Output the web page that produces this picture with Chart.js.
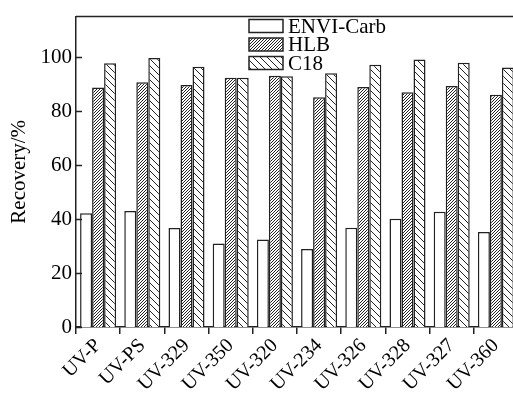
<!DOCTYPE html>
<html>
<head>
<meta charset="utf-8">
<script src="https://cdn.jsdelivr.net/npm/chart.js@4"></script>
<style>
  html, body { margin: 0; padding: 0; background: #fff; overflow: hidden; }
  canvas { display: block; }
</style>
</head>
<body>
<canvas id="myChart" width="518" height="396"></canvas>
<script>
const categories = ["UV-P", "UV-PS", "UV-329", "UV-350", "UV-320", "UV-234", "UV-326", "UV-328", "UV-327", "UV-360"];
const envi = [42.1, 43.0, 36.7, 30.9, 32.4, 28.9, 36.8, 40.1, 42.7, 35.2];
const hlb = [88.7, 90.7, 89.7, 92.3, 93.1, 85.1, 88.9, 87.0, 89.3, 86.0];
const c18 = [97.7, 99.7, 96.4, 92.3, 92.9, 94.0, 97.2, 99.1, 97.9, 96.1];
const yTicks = [0, 20, 40, 60, 80, 100];

const ink = "#222";
const serif = "'Liberation Serif', 'Times New Roman', serif";

// hatch patterns drawn pixel by pixel so the lines stay crisp
function hatch(size, dir) {
  const c = document.createElement("canvas");
  c.width = size; c.height = size;
  const g = c.getContext("2d");
  g.fillStyle = "#fff";
  g.fillRect(0, 0, size, size);
  g.fillStyle = ink;
  for (let i = 0; i < size; i++) {
    const y = dir > 0 ? size - 1 - i : i;
    g.fillRect(i, y, 1, 1);
  }
  return g.createPattern(c, "repeat");
}

const ctx = document.getElementById("myChart").getContext("2d");
const hlbFill = hatch(3, 1);
const c18Fill = hatch(7, -1);

const frame = {
  id: "frame",
  afterDraw(chart) {
    const { ctx, chartArea, scales } = chart;
    ctx.save();
    ctx.strokeStyle = ink;
    ctx.lineWidth = 1.5;
    // top border
    ctx.beginPath();
    ctx.moveTo(chartArea.left, chartArea.top);
    ctx.lineTo(chart.width, chartArea.top);
    ctx.stroke();
    // inward y ticks
    yTicks.forEach(v => {
      const y = Math.round(scales.y.getPixelForValue(v)) + 0.5;
      ctx.beginPath();
      ctx.moveTo(chartArea.left, y);
      ctx.lineTo(chartArea.left + 6, y);
      ctx.stroke();
    });
    // legend
    ctx.font = "21px " + serif;
    ctx.textBaseline = "middle";
    ctx.textAlign = "left";
    chart.data.datasets.forEach((ds, i) => {
      const x = 249, y = 19.5 + i * 18.5;
      ctx.fillStyle = ds.backgroundColor;
      ctx.fillRect(x, y, 34, 13);
      ctx.lineWidth = 1.5;
      ctx.strokeRect(x, y, 34, 13);
      ctx.fillStyle = "#000";
      ctx.fillText(ds.label, 288, y + 7.5);
    });
    ctx.restore();
  }
};

const myChart = new Chart(ctx, {
  type: "bar",
  data: {
    labels: categories,
    datasets: [
      { label: "ENVI-Carb", data: envi, backgroundColor: "#fff" },
      { label: "HLB", data: hlb, backgroundColor: hlbFill },
      { label: "C18", data: c18, backgroundColor: c18Fill },
    ].map(d => Object.assign(d, {
      borderColor: ink,
      borderWidth: 1.5,
      borderSkipped: "start",
      categoryPercentage: 0.815,
      barPercentage: 1.0,
    })),
  },
  options: {
    responsive: false,
    animation: false,
    layout: { padding: { top: 14, left: 0, right: 0, bottom: 0 } },
    plugins: { legend: { display: false }, tooltip: { enabled: false } },
    scales: {
      x: {
        grid: { display: true, drawOnChartArea: false, drawTicks: true, tickLength: 7, color: ink, lineWidth: 1.5 },
        border: { display: true, color: ink, width: 1.5 },
        ticks: {
          color: "#000",
          font: { family: serif, size: 20 },
          minRotation: 45,
          maxRotation: 45,
          autoSkip: false,
          padding: 0,
        },
        afterFit(scale) { scale.height = 69; },
      },
      y: {
        min: 0,
        max: 115,
        grid: { display: false, drawTicks: false },
        border: { display: true, color: ink, width: 1.5 },
        ticks: {
          color: "#000",
          font: { family: serif, size: 21 },
          padding: 4,
        },
        afterBuildTicks(scale) {
          scale.ticks = yTicks.map(v => ({ value: v }));
        },
        title: {
          display: true,
          text: "Recovery/%",
          color: "#000",
          font: { family: serif, size: 21 },
          padding: { top: 7, bottom: 0 },
        },
        afterFit(scale) { scale.width = 76; },
      },
    },
  },
  plugins: [frame],
});
</script>
</body>
</html>
